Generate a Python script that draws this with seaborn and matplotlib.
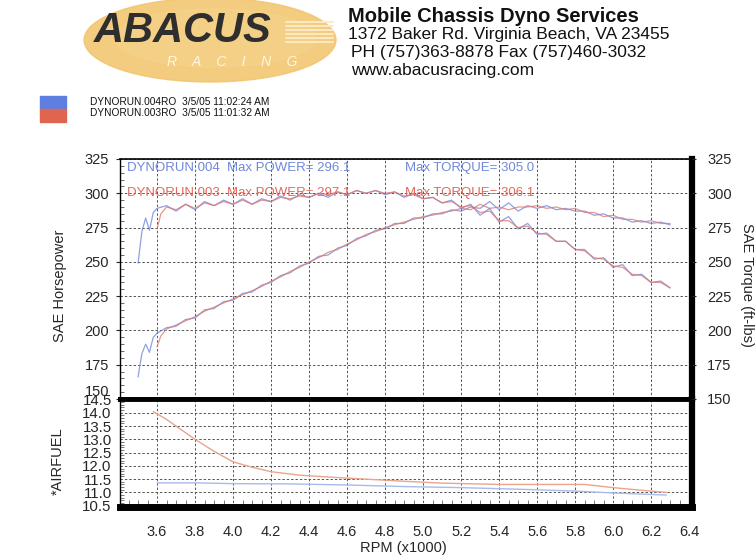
import pandas as pd
import seaborn as sns
import matplotlib.pyplot as plt
from matplotlib.patches import Ellipse, Rectangle
from matplotlib.ticker import MultipleLocator

sns.set_style("white")
plt.rcParams['font.family'] = ['Liberation Sans', 'DejaVu Sans']

# run 004 (blue)
rpm_004 = [3.50, 3.52, 3.54, 3.56, 3.58, 3.60, 3.65, 3.70, 3.75, 3.80, 3.85, 3.90, 3.95, 4.00,
           4.05, 4.10, 4.15, 4.20, 4.25, 4.30, 4.35, 4.40, 4.45, 4.50, 4.55, 4.60, 4.65, 4.70,
           4.75, 4.80, 4.85, 4.90, 4.95, 5.00, 5.05, 5.10, 5.15, 5.20, 5.25, 5.30, 5.35, 5.40,
           5.45, 5.50, 5.55, 5.60, 5.65, 5.70, 5.75, 5.80, 5.85, 5.90, 5.95, 6.00, 6.05, 6.10,
           6.15, 6.20, 6.25, 6.30]
hp_004 = [166, 183, 190, 184, 195, 198, 202, 203, 208, 209, 215, 216, 221, 222,
          227, 228, 233, 235, 240, 242, 247, 249, 254, 255, 260, 262, 267, 269,
          273, 274, 278, 278, 282, 282, 285, 285, 288, 287, 290, 289, 294, 288,
          293, 287, 291, 289, 291, 288, 289, 287, 287, 284, 285, 282, 282, 279,
          280, 278, 279, 277]
tq_004 = [249, 272, 282, 273, 286, 289, 291, 287, 292, 288, 294, 291, 295, 292,
          296, 292, 296, 294, 298, 295, 299, 297, 300, 297, 301, 299, 302, 300,
          302, 299, 301, 297, 300, 296, 297, 293, 295, 289, 292, 284, 289, 279,
          283, 274, 278, 270, 271, 265, 265, 259, 259, 252, 253, 246, 248, 240,
          241, 235, 236, 231]

# run 003 (red)
rpm_003 = [3.60, 3.62, 3.65, 3.70, 3.75, 3.80, 3.85, 3.90, 3.95, 4.00, 4.05, 4.10, 4.15, 4.20,
           4.25, 4.30, 4.35, 4.40, 4.45, 4.50, 4.55, 4.60, 4.65, 4.70, 4.75, 4.80, 4.85, 4.90,
           4.95, 5.00, 5.05, 5.10, 5.15, 5.20, 5.25, 5.30, 5.35, 5.40, 5.45, 5.50, 5.55, 5.60,
           5.65, 5.70, 5.75, 5.80, 5.85, 5.90, 5.95, 6.00, 6.05, 6.10, 6.15, 6.20, 6.25, 6.30]
hp_003 = [188, 196, 201, 204, 207, 210, 214, 217, 220, 223, 226, 229, 232, 236,
          239, 243, 246, 250, 253, 257, 259, 263, 266, 270, 272, 275, 277, 279,
          281, 283, 284, 286, 287, 289, 288, 292, 289, 290, 288, 290, 290, 291,
          289, 290, 288, 289, 286, 286, 283, 284, 281, 281, 279, 280, 278, 278]
tq_003 = [274, 285, 290, 288, 292, 289, 293, 291, 294, 292, 295, 292, 295, 294,
          297, 296, 298, 297, 300, 299, 301, 299, 302, 300, 302, 300, 301, 298,
          299, 296, 297, 293, 294, 290, 291, 286, 287, 280, 280, 275, 276, 271,
          270, 265, 265, 259, 258, 253, 252, 247, 246, 241, 240, 235, 235, 231]

# air/fuel
rpm_afr_003 = [3.58, 3.65, 3.72, 3.80, 3.90, 4.00, 4.10, 4.20, 4.35, 4.50, 4.70, 4.90, 5.10,
               5.40, 5.70, 5.85, 6.00, 6.15, 6.28]
afr_003 = [14.05, 13.75, 13.40, 13.00, 12.55, 12.15, 11.95, 11.78, 11.65, 11.58, 11.50, 11.42,
           11.35, 11.30, 11.30, 11.30, 11.18, 11.08, 11.00]
rpm_afr_004 = [3.60, 3.80, 4.00, 4.30, 4.60, 4.90, 5.20, 5.50, 5.80, 6.00, 6.28]
afr_004 = [11.36, 11.36, 11.33, 11.32, 11.28, 11.22, 11.18, 11.12, 11.05, 10.98, 10.90]

x_ticks = [3.6, 3.8, 4.0, 4.2, 4.4, 4.6, 4.8, 5.0, 5.2, 5.4, 5.6, 5.8, 6.0, 6.2, 6.4]
sae_ticks = [150, 175, 200, 225, 250, 275, 300, 325]
afr_ticks = [10.5, 11.0, 11.5, 12.0, 12.5, 13.0, 13.5, 14.0, 14.5]

pal = {'004': '#6a82dc', '003': '#e07466'}
pal_afr = {'004': '#a8bbec', '003': '#eaa58c'}

df = pd.concat([
    pd.DataFrame({'rpm': rpm_004, 'hp': hp_004, 'tq': tq_004, 'run': '004'}),
    pd.DataFrame({'rpm': rpm_003, 'hp': hp_003, 'tq': tq_003, 'run': '003'}),
])
df_afr = pd.concat([
    pd.DataFrame({'rpm': rpm_afr_004, 'afr': afr_004, 'run': '004'}),
    pd.DataFrame({'rpm': rpm_afr_003, 'afr': afr_003, 'run': '003'}),
])

W, H = 756, 558
fig = plt.figure(figsize=(W / 100, H / 100), dpi=100)


def box(x0, y0, x1, y1):
    return [x0 / W, 1 - y1 / H, (x1 - x0) / W, (y1 - y0) / H]


ax = fig.add_axes(box(120, 159, 692, 399))
axa = fig.add_axes(box(120, 399, 692, 507))

grid_kw = dict(color='#555555', lw=0.7, ls=(0, (2.5, 2)))

# ---- power / torque
for col in ['hp', 'tq']:
    sns.lineplot(data=df, x='rpm', y=col, hue='run', palette=pal, estimator=None,
                 sort=False, lw=0.9, alpha=0.75, legend=False, ax=ax)
ax.set_xlim(3.405, 6.415)
ax.set_ylim(150, 325)
ax.set_xticks(x_ticks)
ax.set_yticks(sae_ticks)
ax.yaxis.set_minor_locator(MultipleLocator(5))
ax.tick_params(axis='x', labelbottom=False, length=0)
ax.tick_params(axis='y', which='major', labelsize=10.5, length=3, direction='out', pad=5)
ax.tick_params(axis='y', which='minor', length=3, direction='in', right=True, color='#555')
ax.get_yticklabels()[0].set_va('bottom')
ax.grid(True, **grid_kw)
ax.set_xlabel('')
ax.set_ylabel('SAE Horsepower', fontsize=10.5)
ax.yaxis.set_label_coords(-0.093, 0.47)
for s, lw in [('top', 1.2), ('left', 1.0), ('right', 4.5), ('bottom', 3.5)]:
    ax.spines[s].set_linewidth(lw)
    ax.spines[s].set_color('black')

ax2 = ax.twinx()
ax2.set_ylim(150, 325)
ax2.set_yticks(sae_ticks)
ax2.tick_params(axis='y', labelsize=10.5, length=3, pad=8)
ax2.set_ylabel('SAE Torque (ft-lbs)', fontsize=10.5, rotation=270)
ax2.yaxis.set_label_coords(1.108, 0.475)
for s in ax2.spines.values():
    s.set_visible(False)

ax.text(3.44, 318.5, 'DYNORUN.004  Max POWER= 296.1', color='#7088d8', fontsize=9.5, va='center')
ax.text(4.905, 318.5, 'Max TORQUE= 305.0', color='#7088d8', fontsize=9.5, va='center')
ax.text(3.44, 300.5, 'DYNORUN.003  Max POWER= 297.1', color='#e06a5c', fontsize=9.5, va='center')
ax.text(4.905, 300.5, 'Max TORQUE= 306.1', color='#e06a5c', fontsize=9.5, va='center')

# ---- air fuel
sns.lineplot(data=df_afr, x='rpm', y='afr', hue='run', palette=pal_afr, estimator=None,
             sort=False, lw=1.0, legend=False, ax=axa)
axa.set_xlim(3.405, 6.415)
axa.set_ylim(10.45, 14.52)
axa.set_xticks(x_ticks)
axa.set_xticklabels([f'{t:.1f}' for t in x_ticks])
axa.set_yticks(afr_ticks)
axa.set_yticklabels([f'{t:.1f}' for t in afr_ticks])
axa.xaxis.set_minor_locator(MultipleLocator(0.05))
axa.yaxis.set_minor_locator(MultipleLocator(0.1))
axa.tick_params(axis='x', which='major', labelsize=10.5, length=0, pad=13)
axa.tick_params(axis='x', which='minor', length=5, direction='in', color='#666', bottom=True)
axa.tick_params(axis='y', which='major', labelsize=10.8, length=0, pad=6)
axa.tick_params(axis='y', which='minor', length=3, direction='in', color='#666', left=True)
axa.grid(True, **grid_kw)
axa.set_xlabel('RPM (x1000)', fontsize=10.5)
axa.xaxis.set_label_coords(0.495, -0.315)
axa.set_ylabel('*AIRFUEL', fontsize=10.5)
axa.yaxis.set_label_coords(-0.096, 0.42)
for s, lw in [('top', 3.5), ('left', 1.0), ('right', 4.5), ('bottom', 5.0)]:
    axa.spines[s].set_linewidth(lw)
    axa.spines[s].set_color('black')

# ---- header
hdr = fig.add_axes([0, 0, 1, 1])
hdr.set_xlim(0, W)
hdr.set_ylim(H, 0)
hdr.axis('off')
hdr.add_patch(Ellipse((210, 40), 252, 84, color='#f1c46a', alpha=0.85))
hdr.add_patch(Ellipse((215, 38), 200, 58, color='#f6d48c', alpha=0.6))
for yy in [22, 26, 30, 34, 38, 42]:
    hdr.plot([286, 333], [yy, yy], color='#fbeac4', lw=1.4)
hdr.text(183, 31, 'ABACUS', fontsize=30, fontweight='bold', fontstyle='italic',
         color='#2e2e2e', ha='center', va='center')
hdr.text(232, 62, 'R    A    C    I    N    G', fontsize=10, fontstyle='italic',
         color='#fff6e0', ha='center', va='center')

hdr.text(348, 17, 'Mobile Chassis Dyno Services', fontsize=14.5, fontweight='bold',
         ha='left', va='center', color='#111')
hdr.text(348, 35, '1372 Baker Rd. Virginia Beach, VA 23455', fontsize=12.5,
         ha='left', va='center', color='#111')
hdr.text(351, 53, 'PH (757)363-8878 Fax (757)460-3032', fontsize=12.5,
         ha='left', va='center', color='#111')
hdr.text(351, 70, 'www.abacusracing.com', fontsize=12.5, ha='left', va='center', color='#111')

hdr.add_patch(Rectangle((40, 96), 26, 13, color='#5f7fe0'))
hdr.add_patch(Rectangle((40, 109), 26, 13, color='#e0654e'))
hdr.text(90, 102, 'DYNORUN.004RO  3/5/05 11:02:24 AM', fontsize=7.3, va='center', color='#111')
hdr.text(90, 113, 'DYNORUN.003RO  3/5/05 11:01:32 AM', fontsize=7.3, va='center', color='#111')

fig.savefig('out.png', dpi=100, facecolor='white')
